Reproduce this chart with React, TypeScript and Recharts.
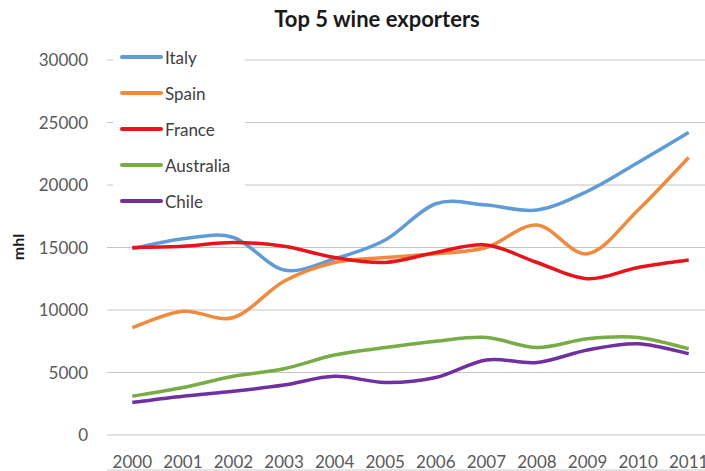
import { CartesianGrid, Legend, Line, LineChart, XAxis, YAxis } from "recharts";

const years = ["2000", "2001", "2002", "2003", "2004", "2005", "2006", "2007", "2008", "2009", "2010", "2011"];

const italy = [14900, 15700, 15800, 13200, 14100, 15600, 18500, 18400, 18000, 19500, 21800, 24200];
const spain = [8600, 9900, 9400, 12300, 13800, 14200, 14500, 15000, 16800, 14500, 18000, 22200];
const france = [15000, 15100, 15400, 15100, 14200, 13800, 14600, 15200, 13800, 12500, 13400, 14000];
const australia = [3100, 3800, 4700, 5300, 6400, 7000, 7500, 7800, 7000, 7700, 7800, 6900];
const chile = [2600, 3100, 3500, 4000, 4700, 4200, 4600, 6000, 5800, 6800, 7300, 6500];

const yTicks = [0, 5000, 10000, 15000, 20000, 25000, 30000];
// boundaries between the year categories, for the tick marks on the x axis
const yearEdges = [-0.5, 0.5, 1.5, 2.5, 3.5, 4.5, 5.5, 6.5, 7.5, 8.5, 9.5, 10.5, 11.5];

const series = [
  { key: "Italy", values: italy, color: "#5f9bd6" },
  { key: "Spain", values: spain, color: "#f08a3e" },
  { key: "France", values: france, color: "#e8141b" },
  { key: "Australia", values: australia, color: "#77ac47" },
  { key: "Chile", values: chile, color: "#7030a0" },
];

const data = years.map((year, i) => {
  const row: Record<string, string | number> = { year };
  series.forEach((s) => {
    row[s.key] = s.values[i];
  });
  return row;
});

const FONT = "Lato, 'Open Sans', sans-serif";

// smoothed line like Excel's (catmull-rom through the points)
const smoothCurve = (context: any) => {
  let xs: number[] = [];
  let ys: number[] = [];
  return {
    areaStart() {},
    areaEnd() {},
    lineStart() {
      xs = [];
      ys = [];
    },
    lineEnd() {
      const n = xs.length;
      if (!n) return;
      context.moveTo(xs[0], ys[0]);
      for (let i = 0; i < n - 1; i++) {
        const a = Math.max(i - 1, 0);
        const d = Math.min(i + 2, n - 1);
        context.bezierCurveTo(
          xs[i] + (xs[i + 1] - xs[a]) / 6,
          ys[i] + (ys[i + 1] - ys[a]) / 6,
          xs[i + 1] - (xs[d] - xs[i]) / 6,
          ys[i + 1] - (ys[d] - ys[i]) / 6,
          xs[i + 1],
          ys[i + 1]
        );
      }
    },
    point(x: number, y: number) {
      xs.push(+x);
      ys.push(+y);
    },
  };
};

const LegendBox = ({ payload }: any) => {
  const items = series
    .map((s) => (payload || []).find((p: any) => p.value === s.key || p.dataKey === s.key))
    .filter(Boolean);
  return (
    <div style={{ background: "#fff", paddingBottom: 14 }}>
      {items.map((p: any) => (
        <div key={p.value} style={{ display: "flex", alignItems: "center", height: 36 }}>
          <div style={{ marginLeft: 7, width: 43, height: 4, background: p.color, borderRadius: 2 }} />
          <span style={{ marginLeft: 2, fontSize: 17, color: "#404040", fontFamily: FONT }}>{p.value}</span>
        </div>
      ))}
    </div>
  );
};

const App = () => {
  return (
    <div
      style={{
        position: "absolute",
        left: 0,
        top: 0,
        width: 705,
        height: 471,
        overflow: "hidden",
        background: "#fff",
        fontFamily: FONT,
      }}
    >
      <div
        style={{
          position: "absolute",
          left: 377,
          top: 8,
          transform: "translateX(-50%)",
          whiteSpace: "nowrap",
          fontSize: 22,
          lineHeight: 1,
          fontWeight: 700,
          color: "#1a1a1a",
        }}
      >
        Top 5 wine exporters
      </div>
      <div
        style={{
          position: "absolute",
          left: 18,
          top: 247,
          transform: "translate(-50%, -50%) rotate(-90deg)",
          fontSize: 16,
          lineHeight: 1,
          fontWeight: 700,
          color: "#1a1a1a",
        }}
      >
        mhl
      </div>
      <LineChart width={720} height={471} data={data} margin={{ top: 60, right: 6, bottom: 0, left: 0 }}>
        <CartesianGrid vertical={false} stroke="#c4c4c4" />
        <XAxis
          xAxisId="edges"
          type="number"
          domain={[-0.5, 11.5]}
          ticks={yearEdges}
          tick={false}
          tickSize={5}
          height={1}
          stroke="#c8c8c8"
        />
        <XAxis
          dataKey="year"
          padding={{ left: 25.3, right: 25.3 }}
          interval={0}
          axisLine={false}
          tickLine={false}
          tickSize={0}
          tickMargin={21}
          height={35}
          tick={{ fontSize: 17, fill: "#595959", fontFamily: FONT }}
        />
        <YAxis
          width={107}
          domain={[0, 30000]}
          ticks={yTicks}
          axisLine={false}
          tickLine={false}
          tickSize={0}
          tickMargin={19}
          tick={{ fontSize: 17, fill: "#595959", fontFamily: FONT }}
        />
        <Legend
          layout="horizontal"
          verticalAlign="middle"
          align="center"
          width={132}
          wrapperStyle={{ left: 113, top: 39, width: 132 }}
          content={<LegendBox />}
        />
        {series.map((s) => (
          <Line
            key={s.key}
            dataKey={s.key}
            type={smoothCurve as any}
            stroke={s.color}
            strokeWidth={3.5}
            dot={false}
            activeDot={false}
            isAnimationActive={false}
          />
        ))}
      </LineChart>
    </div>
  );
};

export default App;
